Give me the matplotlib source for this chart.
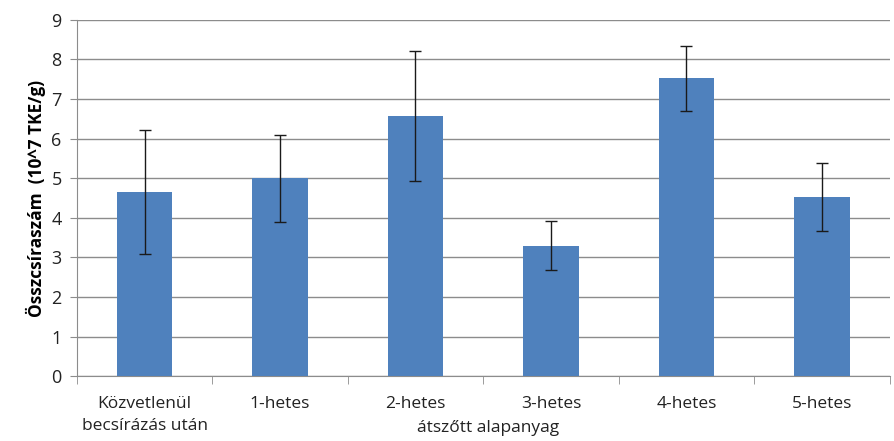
import matplotlib
matplotlib.use("Agg")
import matplotlib.pyplot as plt
import numpy as np

categories = ["Közvetlenül\nbecsírázás után", "1-hetes", "2-hetes", "3-hetes", "4-hetes", "5-hetes"]
values = [4.65, 5.0, 6.57, 3.3, 7.53, 4.52]
errors = [1.57, 1.1, 1.65, 0.61, 0.82, 0.86]
yticks = list(range(0, 10))

plt.rcParams['font.family'] = ['Open Sans', 'DejaVu Sans']
fig = plt.figure(figsize=(8.94, 4.41), dpi=100)
ax = fig.add_axes([0.086, 0.147, 0.909, 0.808])

x = np.arange(len(categories))
ax.bar(x, values, width=0.41, color='#4F81BD', zorder=3,
       yerr=errors, error_kw=dict(ecolor='#1a1a1a', elinewidth=1, capsize=4, capthick=1, zorder=4))

ax.set_xlim(-0.5, len(categories) - 0.5)
ax.set_ylim(0, 9)
ax.set_yticks(yticks)
ax.set_yticklabels([str(t) for t in yticks], fontsize=13, color='#222222')
ax.yaxis.grid(True, color='#8c8c8c', linewidth=1, zorder=0)
ax.set_axisbelow(True)

ax.set_xticks(x)
ax.set_xticklabels(categories, fontsize=12.5, color='#222222', linespacing=1.55)
ax.tick_params(axis='x', length=0, pad=14)
ax.set_xticks(np.arange(-0.5, len(categories)), minor=True)
ax.tick_params(axis='x', which='minor', length=6, color='#8c8c8c')
ax.tick_params(axis='y', length=5, color='#8c8c8c', pad=6)

for s in ['top', 'right']:
    ax.spines[s].set_visible(False)
ax.spines['left'].set_color('#8c8c8c')
ax.spines['bottom'].set_color('#8c8c8c')

ax.set_ylabel("Összcsíraszám  (10^7 TKE/g)", fontsize=12.5, fontweight='bold', labelpad=4)
fig.text(0.5455, 0.03, "átszőtt alapanyag", ha='center', va='center', fontsize=12.5, color='#222222')

fig.savefig("out.png", dpi=100)
